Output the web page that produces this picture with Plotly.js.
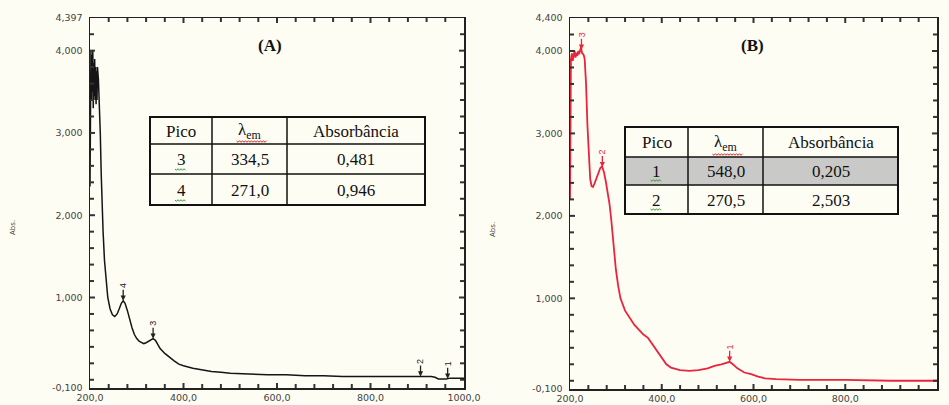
<!DOCTYPE html>
<html>
<head>
<meta charset="utf-8">
<script src="https://cdn.plot.ly/plotly-3.0.1.min.js"></script>
<style>
html,body{margin:0;padding:0;background:#fefdf4;}
#chart{width:949px;height:405px;}
</style>
</head>
<body>
<div id="chart"></div>
<script>
// ---------- DATA ----------
const wlA = [200,201,202,203,204,205,206,207,208,209,210,211,212,213,214,215,216,218,220,222,224,226,228,231,234,238,243,248,253,258,263,267,271,275,280,285,290,295,300,305,310,315,320,325,330,335,340,345,350,360,370,380,390,400,420,440,460,480,500,540,580,620,660,700,740,800,860,900,930,938,945,955,962,970,985,1000];
const absA = [2.35,3.6,4.0,3.4,3.95,3.5,4.0,3.3,3.85,3.45,3.9,3.4,3.8,3.35,3.75,3.4,3.8,3.65,3.35,3.0,2.5,2.1,1.8,1.45,1.2,1.0,0.86,0.79,0.77,0.8,0.87,0.93,0.96,0.93,0.84,0.73,0.63,0.55,0.5,0.47,0.45,0.44,0.45,0.47,0.49,0.5,0.48,0.43,0.38,0.32,0.27,0.23,0.19,0.17,0.14,0.12,0.1,0.09,0.08,0.07,0.06,0.06,0.05,0.05,0.04,0.04,0.04,0.04,0.04,0.03,0.01,0.01,0.01,0.02,0.02,0.02];

const wlB = [200,201,202,204,206,208,210,212,214,216,218,220,222,224,226,228,230,232,235,238,241,244,247,250,254,258,262,266,270,274,278,282,286,290,295,300,305,310,320,330,340,350,360,370,380,390,400,410,420,440,460,480,500,515,530,540,548,555,565,580,595,610,625,650,700,800,900,1000];
const absB = [2.2,3.3,3.9,3.97,3.88,3.95,4.0,3.92,3.98,3.94,4.0,3.96,4.02,4.05,3.98,3.97,3.95,3.9,3.6,3.1,2.7,2.45,2.36,2.35,2.4,2.46,2.53,2.58,2.6,2.53,2.42,2.3,2.15,1.95,1.6,1.35,1.15,1.0,0.85,0.76,0.68,0.62,0.56,0.52,0.44,0.36,0.27,0.2,0.16,0.13,0.12,0.13,0.15,0.18,0.2,0.22,0.23,0.2,0.15,0.1,0.08,0.05,0.03,0.02,0.01,0.01,0.0,0.0];

const peaksA_x = [965, 907, 335, 271];
const peaksA_label = ['1','2','3','4'];
const peaksB_x = [548, 270.5, 225];
const peaksB_label = ['1','2','3'];

const xTickVals = [200,400,600,800,1000];
const xTickText = ['200,0','400,0','600,0','800,0','1000,0'];
const yTickValsA = [-0.1,1,2,3,4,4.397];
const yTickTextA = ['-0,100','1,000','2,000','3,000','4,000','4,397'];
const yTickValsB = [-0.1,1,2,3,4,4.4];
const yTickTextB = ['-0,100','1,000','2,000','3,000','4,000','4,400'];
const xMinorStep = 40;
const yMinorStep = 0.2;

const tableHeader = ['Pico','λ<sub>em</sub>','Absorbância'];
const tableA_pico = ['3','4'];
const tableA_lambda = ['334,5','271,0'];
const tableA_abs = ['0,481','0,946'];
const tableB_pico = ['1','2'];
const tableB_lambda = ['548,0','270,5'];
const tableB_abs = ['0,205','2,503'];

// ---------- HELPERS ----------
const W = 949, H = 405;
const px = x => x / W;
const py = y => 1 - y / H;
function interp(xs, ys, x){
  for (let i = 0; i < xs.length - 1; i++){
    if (x >= xs[i] && x <= xs[i+1]){
      const t = (x - xs[i]) / (xs[i+1] - xs[i]);
      return ys[i] + t * (ys[i+1] - ys[i]);
    }
  }
  return ys[ys.length-1];
}
function minorVals(majV, lo, hi, step, start){
  const vals = [];
  for (let v = start; v <= hi + 1e-9; v += step){
    const r = Math.round(v * 1000) / 1000;
    if (r <= lo || r >= hi) continue;
    if (majV.some(m => Math.abs(m - r) < 1e-6)) continue;
    vals.push(r);
  }
  return vals;
}
const bg = '#fefdf4';
const axCol = '#222';
const tickFont = {family:'DejaVu Sans, Verdana, sans-serif', size:9.5, color:'#444'};

function xAxis(domain, anchor){
  return {domain:domain, anchor:anchor, range:[200,1000], tickmode:'array', tickvals:xTickVals, ticktext:xTickText,
    ticks:'', showline:true, linecolor:axCol, linewidth:1.5,
    mirror:true, showgrid:false, zeroline:false, tickfont:tickFont, fixedrange:true};
}
function yAxis(domain, anchor, range, tv, tt){
  return {domain:domain, anchor:anchor, range:range, tickmode:'array', tickvals:tv, ticktext:tt,
    ticks:'', showline:true, linecolor:axCol, linewidth:1.5, ticklabelstandoff:4,
    mirror:true, showgrid:false, zeroline:false, tickfont:tickFont, fixedrange:true};
}

const traces = [
  {x:wlA, y:absA, type:'scatter', mode:'lines', line:{color:'#151515', width:1.5}, xaxis:'x', yaxis:'y', hoverinfo:'skip'},
  {x:wlB, y:absB, type:'scatter', mode:'lines', line:{color:'#e8253c', width:1.8}, xaxis:'x2', yaxis:'y2', hoverinfo:'skip'}
];

const shapes = [];
const annotations = [];

// inward tick marks on all four sides, at the axis tick values
function addTicks(xr, yr, pxL, pxR, pyT, pyB, xMaj, xMin, yMaj, yMin){
  const st = {color:'#333', width:2};
  const put = (vals, len, isX) => vals.forEach(v => {
    if (isX){
      shapes.push({type:'line', xref:xr, yref:'paper', x0:v, x1:v, y0:py(pyB), y1:py(pyB - len), line:st});
      shapes.push({type:'line', xref:xr, yref:'paper', x0:v, x1:v, y0:py(pyT), y1:py(pyT + len), line:st});
    } else {
      shapes.push({type:'line', xref:'paper', yref:yr, x0:px(pxL), x1:px(pxL + len), y0:v, y1:v, line:st});
      shapes.push({type:'line', xref:'paper', yref:yr, x0:px(pxR), x1:px(pxR - len), y0:v, y1:v, line:st});
    }
  });
  put(xMaj, 5, true); put(xMin, 4, true);
  put(yMaj, 5, false); put(yMin, 4, false);
}
addTicks('x', 'y', 90, 464, 18, 388,
  xTickVals.slice(1, -1), minorVals(xTickVals, 200, 1000, xMinorStep, 200),
  yTickValsA.slice(1, -1), minorVals(yTickValsA, -0.1, 4.397, yMinorStep, 0));
addTicks('x2', 'y2', 570, 937, 18, 389,
  xTickVals.slice(1, -1), minorVals(xTickVals, 200, 1000, xMinorStep, 200),
  yTickValsB.slice(1, -1), minorVals(yTickValsB, -0.1, 4.4, yMinorStep, 0));

// peak markers
function addPeaks(xs, labels, wl, ab, xr, yr, color){
  xs.forEach((x, i) => {
    annotations.push({xref:xr, yref:yr, x:x, y:interp(wl, ab, x), text:labels[i], showarrow:true,
      ax:0, ay:-15, arrowhead:2, arrowsize:0.8, arrowwidth:1.3, arrowcolor:color, standoff:0,
      font:{family:'Liberation Sans, Arial, sans-serif', size:9, color:color}, textangle:-90});
  });
}
addPeaks(peaksA_x, peaksA_label, wlA, absA, 'x', 'y', '#222');
addPeaks(peaksB_x, peaksB_label, wlB, absB, 'x2', 'y2', '#e8253c');

function paperText(x, y, text, font, angle){
  annotations.push({xref:'paper', yref:'paper', x:px(x), y:py(y), xanchor:'center', yanchor:'middle',
    text:text, showarrow:false, font:font, textangle:angle || 0});
}
// titles and axis labels
const titleFont = {family:'Liberation Serif, Times New Roman, serif', size:17, color:'#111'};
paperText(270, 45, '<b>(A)</b>', titleFont);
paperText(752, 45, '<b>(B)</b>', titleFont);
const absFont = {family:'DejaVu Sans, Verdana, sans-serif', size:7, color:'#444'};
paperText(13, 228, 'Abs.', absFont, -90);
paperText(493, 230, 'Abs.', absFont, -90);

// squiggle
function squiggle(x0, x1, y, color){
  let d = 'M' + px(x0) + ',' + py(y);
  let k = 0;
  for (let x = x0 + 1.5; x <= x1; x += 1.5){
    k++;
    d += ' L' + px(x) + ',' + py(y + (k % 2 ? 1.3 : -0.3));
  }
  shapes.push({type:'path', xref:'paper', yref:'paper', path:d, line:{color:color, width:1}});
}

// tables
const cellFont = {family:'Liberation Serif, Times New Roman, serif', size:17, color:'#111'};
function addTable(ex, ey, rows, shadeRow){
  const X0 = px(ex[0]), X1 = px(ex[ex.length-1]), Y0 = py(ey[ey.length-1]), Y1 = py(ey[0]);
  shapes.push({type:'rect', xref:'paper', yref:'paper', x0:X0, x1:X1, y0:Y0, y1:Y1, fillcolor:bg, line:{width:0}, layer:'below'});
  if (shadeRow != null){
    shapes.push({type:'rect', xref:'paper', yref:'paper', x0:X0, x1:X1,
      y0:py(ey[shadeRow+1]), y1:py(ey[shadeRow]), fillcolor:'#c9c9c7', line:{width:0}, layer:'below'});
  }
  for (let i = 1; i < ex.length - 1; i++){
    shapes.push({type:'line', xref:'paper', yref:'paper', x0:px(ex[i]), x1:px(ex[i]), y0:Y0, y1:Y1, line:{color:'#111', width:1.5}});
  }
  for (let j = 1; j < ey.length - 1; j++){
    shapes.push({type:'line', xref:'paper', yref:'paper', x0:X0, x1:X1, y0:py(ey[j]), y1:py(ey[j]), line:{color:'#111', width:1.5}});
  }
  shapes.push({type:'rect', xref:'paper', yref:'paper', x0:X0, x1:X1, y0:Y0, y1:Y1, line:{color:'#111', width:2}});
  rows.forEach((row, r) => {
    row.forEach((txt, c) => {
      paperText((ex[c]+ex[c+1])/2, (ey[r]+ey[r+1])/2 + 0.5, txt, cellFont);
    });
  });
  // spell-check squiggles
  const cxL = (ex[1]+ex[2])/2;
  squiggle(cxL-13, cxL+18, ey[1]-3, '#d8262c');
  const cxP = (ex[0]+ex[1])/2;
  for (let r = 1; r < ey.length - 1; r++){
    squiggle(cxP-6, cxP+5, ey[r+1]-5, '#3a9a3a');
  }
}

const rowsA = [tableHeader];
tableA_pico.forEach((p, i) => rowsA.push([p, tableA_lambda[i], tableA_abs[i]]));
const rowsB = [tableHeader];
tableB_pico.forEach((p, i) => rowsB.push([p, tableB_lambda[i], tableB_abs[i]]));

addTable([150, 212, 287, 425], [117, 144, 174, 205], rowsA, null);
addTable([625, 688, 763, 898], [127, 157, 185, 214], rowsB, 1);

const layout = {
  width:W, height:H, margin:{l:0, r:0, t:0, b:0},
  paper_bgcolor:bg, plot_bgcolor:bg, showlegend:false,
  xaxis: xAxis([px(90), px(464)], 'y'),
  yaxis: yAxis([py(388), py(18)], 'x', [-0.1, 4.397], yTickValsA, yTickTextA),
  xaxis2: xAxis([px(570), px(937)], 'y2'),
  yaxis2: yAxis([py(389), py(18)], 'x2', [-0.1, 4.4], yTickValsB, yTickTextB),
  shapes: shapes,
  annotations: annotations
};

Plotly.newPlot('chart', traces, layout, {displayModeBar:false, staticPlot:true});
</script>
</body>
</html>
